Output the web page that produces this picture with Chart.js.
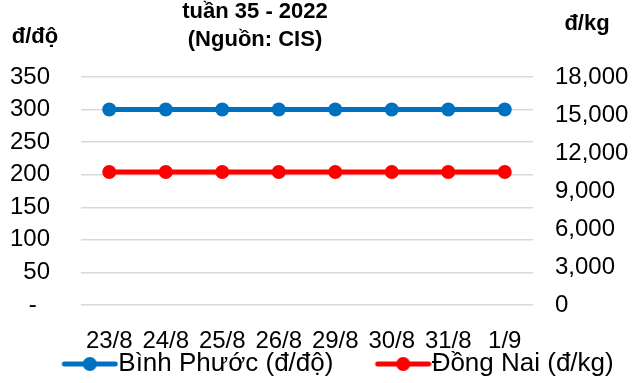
<!DOCTYPE html>
<html>
<head>
<meta charset="utf-8">
<script src="https://cdn.jsdelivr.net/npm/chart.js@4/dist/chart.umd.min.js"></script>
<style>
  html, body { margin: 0; padding: 0; background: #fff; }
  #wrap { width: 641px; height: 383px; position: relative; }
</style>
</head>
<body>
<div id="wrap"><canvas id="c"></canvas></div>
<script>
// Giá mủ cao su tuần 35 - 2022
const categories = ['23/8', '24/8', '25/8', '26/8', '29/8', '30/8', '31/8', '1/9'];
const binhPhuoc = [300, 300, 300, 300, 300, 300, 300, 300];               // đ/độ
const dongNai = [10500, 10500, 10500, 10500, 10500, 10500, 10500, 10500]; // đ/kg
const leftTicks = [0, 50, 100, 150, 200, 250, 300, 350];
const rightTicks = [0, 3000, 6000, 9000, 12000, 15000, 18000];
const seriesNames = ['Bình Phước (đ/độ)', 'Đồng Nai (đ/kg)'];

const FONT = "'Liberation Sans', Arial, sans-serif";
const BLUE = '#0070C0';
const RED = '#FF0000';
const TICK_SIZE = 24;
const LEGEND_SIZE = 26;
const LEGEND_BOX = 78;

// legend marker: a short line with a dot in the middle, sitting right before the text
function legendMarker(color) {
  const w = LEGEND_BOX + LEGEND_SIZE;
  const c = document.createElement('canvas');
  c.width = w; c.height = 16;
  const g = c.getContext('2d');
  const x1 = w - 56, x2 = w - 1;
  g.strokeStyle = color; g.lineWidth = 5; g.lineCap = 'round';
  g.beginPath(); g.moveTo(x1 + 2, 8); g.lineTo(x2 - 2, 8); g.stroke();
  g.fillStyle = color;
  g.beginPath(); g.arc((x1 + x2) / 2, 8, 7, 0, Math.PI * 2); g.fill();
  return c;
}
const markers = [legendMarker(BLUE), legendMarker(RED)];

const headerText = {
  id: 'headerText',
  afterDraw(chart) {
    const ctx = chart.ctx;
    ctx.save();
    ctx.fillStyle = '#000';
    ctx.textBaseline = 'middle';
    ctx.textAlign = 'center';
    ctx.font = 'bold 22px ' + FONT;
    ctx.fillText('tuần 35 - 2022', 255, 12);
    ctx.fillText('(Nguồn: CIS)', 255, 40);
    ctx.fillText('đ/độ', 35, 37);
    ctx.fillText('đ/kg', 587, 24);
    ctx.restore();
  }
};

new Chart(document.getElementById('c'), {
  type: 'line',
  data: {
    labels: categories,
    datasets: [
      {
        label: seriesNames[0],
        data: binhPhuoc,
        yAxisID: 'y',
        borderColor: BLUE,
        backgroundColor: BLUE,
        borderWidth: 5,
        pointRadius: 7,
        pointHoverRadius: 7,
        pointBorderWidth: 0,
        pointStyle: 'circle'
      },
      {
        label: seriesNames[1],
        data: dongNai,
        yAxisID: 'y1',
        borderColor: RED,
        backgroundColor: RED,
        borderWidth: 5,
        pointRadius: 7,
        pointHoverRadius: 7,
        pointBorderWidth: 0,
        pointStyle: 'circle'
      }
    ]
  },
  options: {
    responsive: true,
    maintainAspectRatio: false,
    animation: false,
    layout: { padding: { top: 77, left: 0, right: 0, bottom: -4 } },
    plugins: {
      title: { display: false },
      tooltip: { enabled: false },
      legend: {
        position: 'bottom',
        labels: {
          font: { family: FONT, size: LEGEND_SIZE },
          color: '#000',
          usePointStyle: true,
          pointStyleWidth: LEGEND_BOX,
          boxHeight: 16,
          padding: 0,
          generateLabels(chart) {
            return chart.data.datasets.map((ds, i) => ({
              // a trailing space keeps the two entries apart
              text: i === 0 ? ds.label + ' ' : ds.label,
              pointStyle: markers[i],
              fillStyle: ds.borderColor,
              strokeStyle: ds.borderColor,
              lineWidth: 0,
              hidden: false,
              datasetIndex: i,
              fontColor: '#000'
            }));
          }
        }
      }
    },
    scales: {
      x: {
        grid: { display: false, drawTicks: false },
        border: { display: false },
        offset: true,
        afterFit(scale) { scale.height = 46; },
        ticks: {
          font: { family: FONT, size: TICK_SIZE },
          color: '#000',
          padding: 22,
          maxRotation: 0,
          autoSkip: false
        }
      },
      y: {
        position: 'left',
        min: 0,
        max: 350,
        afterBuildTicks(scale) { scale.ticks = leftTicks.map(v => ({ value: v })); },
        afterFit(scale) { scale.width = 81; },
        grid: { color: '#D9D9D9', lineWidth: 1.5, drawTicks: false },
        border: { display: false },
        ticks: {
          font: { family: FONT, size: TICK_SIZE },
          color: '#000',
          padding: 31,
          callback: v => (v === 0 ? '-  ' : String(v))
        }
      },
      y1: {
        position: 'right',
        min: 0,
        max: 18000,
        afterBuildTicks(scale) { scale.ticks = rightTicks.map(v => ({ value: v })); },
        afterFit(scale) { scale.width = 108; },
        grid: { display: false, drawTicks: false },
        border: { display: false },
        ticks: {
          font: { family: FONT, size: TICK_SIZE },
          color: '#000',
          padding: 22,
          callback: v => v.toLocaleString('en-US')
        }
      }
    }
  },
  plugins: [headerText]
});
</script>
</body>
</html>
